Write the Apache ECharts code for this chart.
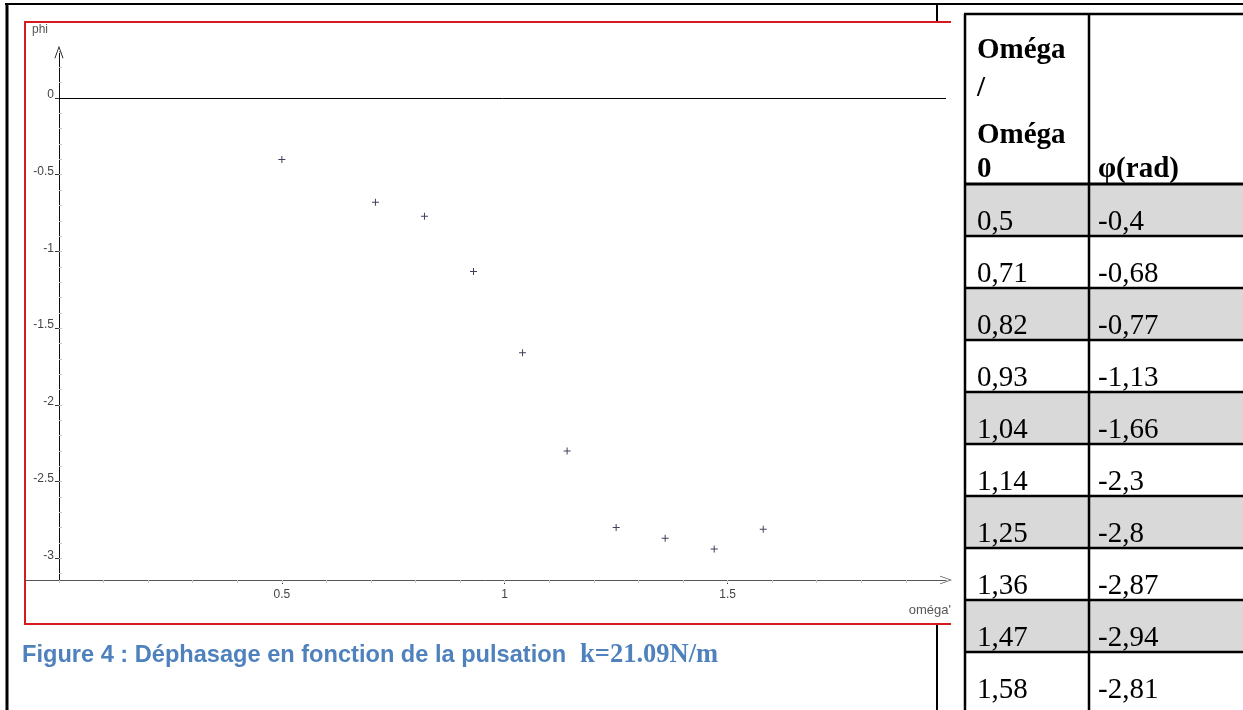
<!DOCTYPE html>
<html>
<head>
<meta charset="utf-8">
<script src="https://cdn.jsdelivr.net/npm/echarts@6/dist/echarts.min.js"></script>
<style>
  html, body { margin: 0; padding: 0; background: #ffffff; }
  #chart { width: 1243px; height: 710px; }
</style>
</head>
<body>
<div id="chart"></div>
<script>
// Measured pulsation ratio (omega / omega0) and phase shift phi (rad)
const ratio = [0.5, 0.71, 0.82, 0.93, 1.04, 1.14, 1.25, 1.36, 1.47, 1.58];
const phase = [-0.4, -0.68, -0.77, -1.13, -1.66, -2.3, -2.8, -2.87, -2.94, -2.81];

// Axis tick values
const xTickLabels = [0.5, 1, 1.5];
const yTickLabels = [0, -0.5, -1, -1.5, -2, -2.5, -3];
const xMinorTicks = [0, 0.1, 0.2, 0.3, 0.4, 0.5, 0.6, 0.7, 0.8, 0.9, 1, 1.1, 1.2, 1.3, 1.4, 1.5, 1.6, 1.7, 1.8, 1.9];
const yMinorTicks = [0.3, 0.2, 0.1, 0, -0.1, -0.2, -0.3, -0.4, -0.5, -0.6, -0.7, -0.8, -0.9, -1, -1.1, -1.2, -1.3, -1.4, -1.5,
  -1.6, -1.7, -1.8, -1.9, -2, -2.1, -2.2, -2.3, -2.4, -2.5, -2.6, -2.7, -2.8, -2.9, -3, -3.1];

// Axis ranges: the horizontal axis sits at -pi
const xMin = -0.0762, xMax = 1.99;
const yMin = -3.1416, yMax = 0.30;

// Table headings and caption
const headerLeft = ['Oméga', '/', 'Oméga', '0'];
const headerRight = 'φ(rad)';
const captionMain = 'Figure 4 : Déphasage en fonction de la pulsation';
const captionUnit = 'k=21.09N/m';
const yName = 'phi';
const xName = "oméga'";

const fmt = v => String(v).replace('.', ',');

// open chevron used as axis arrow heads, small cross for the points
const chevron = 'path://M0,14 L5,0 L10,14 L9,14 L5,2.5 L1,14 Z';
const plus = 'path://M3,0 L4,0 L4,3 L7,3 L7,4 L4,4 L4,7 L3,7 L3,4 L0,4 L0,3 L3,3 Z';

// plot frame
const gridLeft = 25, gridRight = 297, gridTop = 52, gridBottom = 130;
const plotWidth = 1243 - gridLeft - gridRight;
// vertical axis drawn where omega = 0
const yAxisShift = -(0 - xMin) * plotWidth / (xMax - xMin);

const chart = echarts.init(document.getElementById('chart'));

// ---- page frame, figure box, table and caption ----
const graphics = [];
// document cell borders
graphics.push({ type: 'line', z: -30, shape: { x1: 5, y1: 4, x2: 1243, y2: 4 }, style: { stroke: '#000', lineWidth: 2 } });
graphics.push({ type: 'line', z: -30, shape: { x1: 7, y1: 3, x2: 7, y2: 710 }, style: { stroke: '#000', lineWidth: 3 } });
graphics.push({ type: 'line', z: -30, shape: { x1: 937, y1: 4, x2: 937, y2: 710 }, style: { stroke: '#000', lineWidth: 2 } });
// figure area
graphics.push({ type: 'rect', z: -20, shape: { x: 25, y: 22, width: 926, height: 602 }, style: { fill: '#fff' } });
graphics.push({ type: 'polyline', z: -19, shape: { points: [[951, 22], [25, 22], [25, 624], [951, 624]] }, style: { stroke: '#d71920', lineWidth: 2, fill: null } });

// table
const tLeft = 965, tMid = 1089, tRight = 1250, tTop = 14, tHead = 184, rowH = 52;
const cellFont = '29px "Liberation Serif"';
const headFont = 'bold 29px "Liberation Serif"';
function cellText(x, baseline, text, font) {
  return { type: 'text', z: 5, x: x, y: baseline + 7,
    style: { text: text, font: font, fill: '#000', align: 'left', verticalAlign: 'bottom', textAlign: 'left', textVerticalAlign: 'bottom' } };
}
ratio.forEach((r, i) => {
  const top = tHead + i * rowH;
  if (i % 2 === 0) {
    graphics.push({ type: 'rect', z: -10, shape: { x: tLeft, y: top, width: tRight - tLeft, height: rowH }, style: { fill: '#d9d9d9' } });
  }
  graphics.push(cellText(tLeft + 12, top + 46, fmt(r), cellFont));
  graphics.push(cellText(tMid + 9, top + 46, fmt(phase[i]), cellFont));
  if (i > 0) {
    graphics.push({ type: 'line', z: 3, shape: { x1: tLeft, y1: top, x2: tRight, y2: top }, style: { stroke: '#000', lineWidth: 2.5 } });
  }
});
graphics.push({ type: 'line', z: 3, shape: { x1: tLeft - 1, y1: tTop, x2: tRight, y2: tTop }, style: { stroke: '#000', lineWidth: 2.5 } });
graphics.push({ type: 'line', z: 3, shape: { x1: tLeft, y1: tHead, x2: tRight, y2: tHead }, style: { stroke: '#000', lineWidth: 3 } });
graphics.push({ type: 'line', z: 3, shape: { x1: tLeft, y1: tTop, x2: tLeft, y2: 710 }, style: { stroke: '#000', lineWidth: 2.5 } });
graphics.push({ type: 'line', z: 3, shape: { x1: tMid, y1: tTop, x2: tMid, y2: 710 }, style: { stroke: '#000', lineWidth: 2.5 } });
const headBase = [58, 96, 143, 177];
headerLeft.forEach((t, i) => graphics.push(cellText(tLeft + 12, headBase[i], t, headFont)));
graphics.push(cellText(tMid + 9, 177, headerRight, headFont));

// axis names
graphics.push({ type: 'text', z: 5, x: 32, y: 24,
  style: { text: yName, font: '12px "Liberation Sans"', fill: '#555', align: 'left', verticalAlign: 'top', textAlign: 'left', textVerticalAlign: 'top' } });
graphics.push({ type: 'text', z: 5, x: 951, y: 604,
  style: { text: xName, font: '13px "Liberation Sans"', fill: '#555', align: 'right', verticalAlign: 'top', textAlign: 'right', textVerticalAlign: 'top' } });

// caption
graphics.push({ type: 'text', z: 5, x: 22, y: 655,
  style: {
    text: '{a|' + captionMain + '}{b|' + captionUnit + '}',
    align: 'left', verticalAlign: 'middle', textAlign: 'left', textVerticalAlign: 'middle',
    rich: {
      a: { fontFamily: 'Liberation Sans', fontWeight: 'bold', fontSize: 23.6, fill: '#4f81bd', color: '#4f81bd', lineHeight: 28 },
      b: { fontFamily: 'Liberation Serif', fontWeight: 'bold', fontSize: 26.5, fill: '#4f81bd', color: '#4f81bd', lineHeight: 28, padding: [0, 0, 0, 14] }
    }
  } });

const labelFont = { fontFamily: 'Liberation Sans', fontSize: 12, color: '#444' };

chart.setOption({
  backgroundColor: '#ffffff',
  animation: false,
  grid: { left: gridLeft, right: gridRight, top: gridTop, bottom: gridBottom, containLabel: false, outerBoundsMode: 'none' },
  xAxis: [
    {
      type: 'value', min: xMin, max: xMax, position: 'bottom',
      axisLine: { show: true, onZero: false, symbol: ['none', chevron], symbolSize: [9, 12], lineStyle: { color: '#555', width: 1 } },
      axisTick: { show: true, customValues: xTickLabels, length: 4, inside: false, lineStyle: { color: '#333' } },
      axisLabel: { show: true, customValues: xTickLabels, margin: 9, ...labelFont },
      splitLine: { show: false }
    },
    {
      type: 'value', min: xMin, max: xMax, position: 'bottom',
      axisLine: { show: false, onZero: false },
      axisTick: { show: true, customValues: xMinorTicks, length: 3, inside: false, lineStyle: { color: '#c8c8c8' } },
      axisLabel: { show: false },
      splitLine: { show: false }
    }
  ],
  yAxis: [
    {
      type: 'value', min: yMin, max: yMax, position: 'left', offset: yAxisShift,
      axisLine: { show: true, onZero: false, symbol: ['none', chevron], symbolSize: [9, 14], lineStyle: { color: '#111', width: 1 } },
      axisTick: { show: true, customValues: yTickLabels, length: 4, inside: false, lineStyle: { color: '#333' } },
      axisLabel: { show: true, customValues: yTickLabels, margin: 5, verticalAlign: 'bottom', lineHeight: 6, ...labelFont },
      splitLine: { show: false }
    },
    {
      type: 'value', min: yMin, max: yMax, position: 'left', offset: yAxisShift,
      axisLine: { show: false, onZero: false },
      axisTick: { show: true, customValues: yMinorTicks, length: 3, inside: true, lineStyle: { color: '#c8c8c8' } },
      axisLabel: { show: false },
      splitLine: { show: false }
    }
  ],
  series: [
    {
      type: 'scatter',
      xAxisIndex: 0, yAxisIndex: 0,
      data: ratio.map((r, i) => [r, phase[i]]),
      symbol: plus,
      symbolSize: 7,
      itemStyle: { color: '#101036' },
      z: 5,
      markLine: {
        silent: true,
        symbol: ['none', 'none'],
        label: { show: false },
        lineStyle: { color: '#000', width: 1, type: 'solid' },
        data: [[{ coord: [0, 0] }, { coord: [xMax, 0] }]]
      }
    }
  ],
  graphic: { elements: graphics }
});
</script>
</body>
</html>
